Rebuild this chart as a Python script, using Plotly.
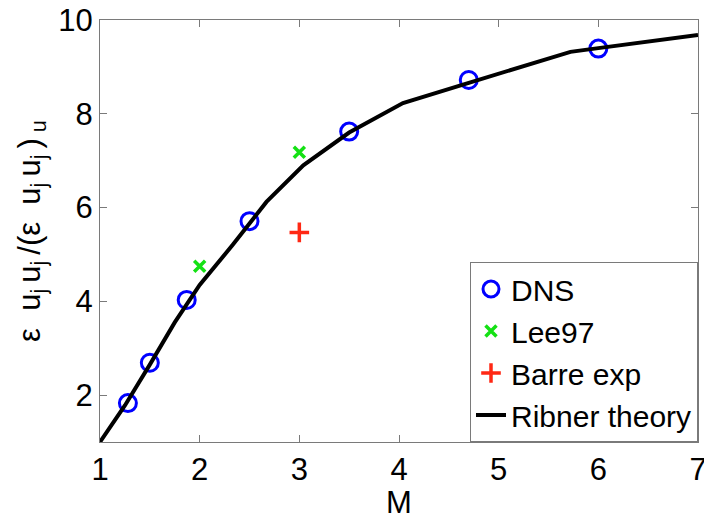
import plotly.graph_objects as go

# DNS data
dns_m = [1.28, 1.5, 1.87, 2.5, 3.5, 4.7, 6.0]
dns_v = [1.83, 2.69, 4.03, 5.71, 7.62, 8.72, 9.39]
# Lee97
lee_m = [2.0, 3.0]
lee_v = [4.75, 7.18]
# Barre experiment
barre_m = [3.0]
barre_v = [5.47]
# Ribner theory
rib_m = [1.0, 1.25, 1.5, 1.75, 2.0, 2.33, 2.67, 3.04, 3.5, 4.04, 4.7, 5.0, 5.72, 6.0, 7.0]
rib_v = [1.0, 1.78, 2.65, 3.55, 4.35, 5.2, 6.12, 6.9, 7.6, 8.23, 8.66, 8.85, 9.32, 9.4, 9.68]

x_title = "M"
y_title = "ε  u<sub>j </sub>u<sub>j </sub>/(ε  u<sub>j </sub>u<sub>j </sub>)<sub> u</sub>"

FONT = "Liberation Sans, Arial, Helvetica, sans-serif"
FS = 31

fig = go.Figure()
fig.add_trace(go.Scatter(x=dns_m, y=dns_v, mode="markers", name="DNS",
                         marker=dict(symbol="circle-open", size=17, color="rgb(0,0,255)",
                                     line=dict(width=3, color="rgb(0,0,255)"))))
fig.add_trace(go.Scatter(x=lee_m, y=lee_v, mode="markers", name="Lee97",
                         marker=dict(symbol="x-thin-open", size=11, color="rgb(20,225,20)",
                                     line=dict(width=3.5, color="rgb(20,225,20)"))))
fig.add_trace(go.Scatter(x=barre_m, y=barre_v, mode="markers", name="Barre exp",
                         marker=dict(symbol="cross-thin-open", size=14, color="rgb(255,40,20)",
                                     line=dict(width=3.5, color="rgb(255,40,20)"))))
fig.add_trace(go.Scatter(x=rib_m, y=rib_v, mode="lines", name="Ribner theory",
                         line=dict(color="black", width=4)))

axis_common = dict(showline=True, linecolor="#7a7a7a", linewidth=1, mirror="ticks",
                   ticks="inside", ticklen=7, tickcolor="#7a7a7a", showgrid=False,
                   zeroline=False, ticklabeloverflow="allow", automargin=False,
                   tickfont=dict(size=FS, color="black", family=FONT))

fig.update_xaxes(range=[1, 7], tickvals=[1, 2, 3, 4, 5, 6, 7], **axis_common)
fig.update_yaxes(range=[1, 10], tickvals=[2, 4, 6, 8, 10],
                 title=dict(text=y_title,
                            font=dict(size=FS, color="black", family=FONT), standoff=8),
                 **axis_common)

fig.add_annotation(text=x_title, xref="paper", yref="paper", x=0.5, y=-0.143,
                   xanchor="center", yanchor="middle", showarrow=False, borderpad=0,
                   font=dict(size=FS, color="black", family=FONT))

fig.update_layout(
    width=704, height=517,
    margin=dict(l=100, r=6, t=20, b=75, autoexpand=False),
    paper_bgcolor="white", plot_bgcolor="white",
    font=dict(family=FONT, size=FS, color="black"),
    showlegend=True,
    legend=dict(x=1, y=0, xanchor="right", yanchor="bottom",
                bgcolor="white", bordercolor="#7a7a7a", borderwidth=1,
                font=dict(size=30, family=FONT, color="black"),
                tracegroupgap=0, itemwidth=30),
)

fig.write_html("out.html")
